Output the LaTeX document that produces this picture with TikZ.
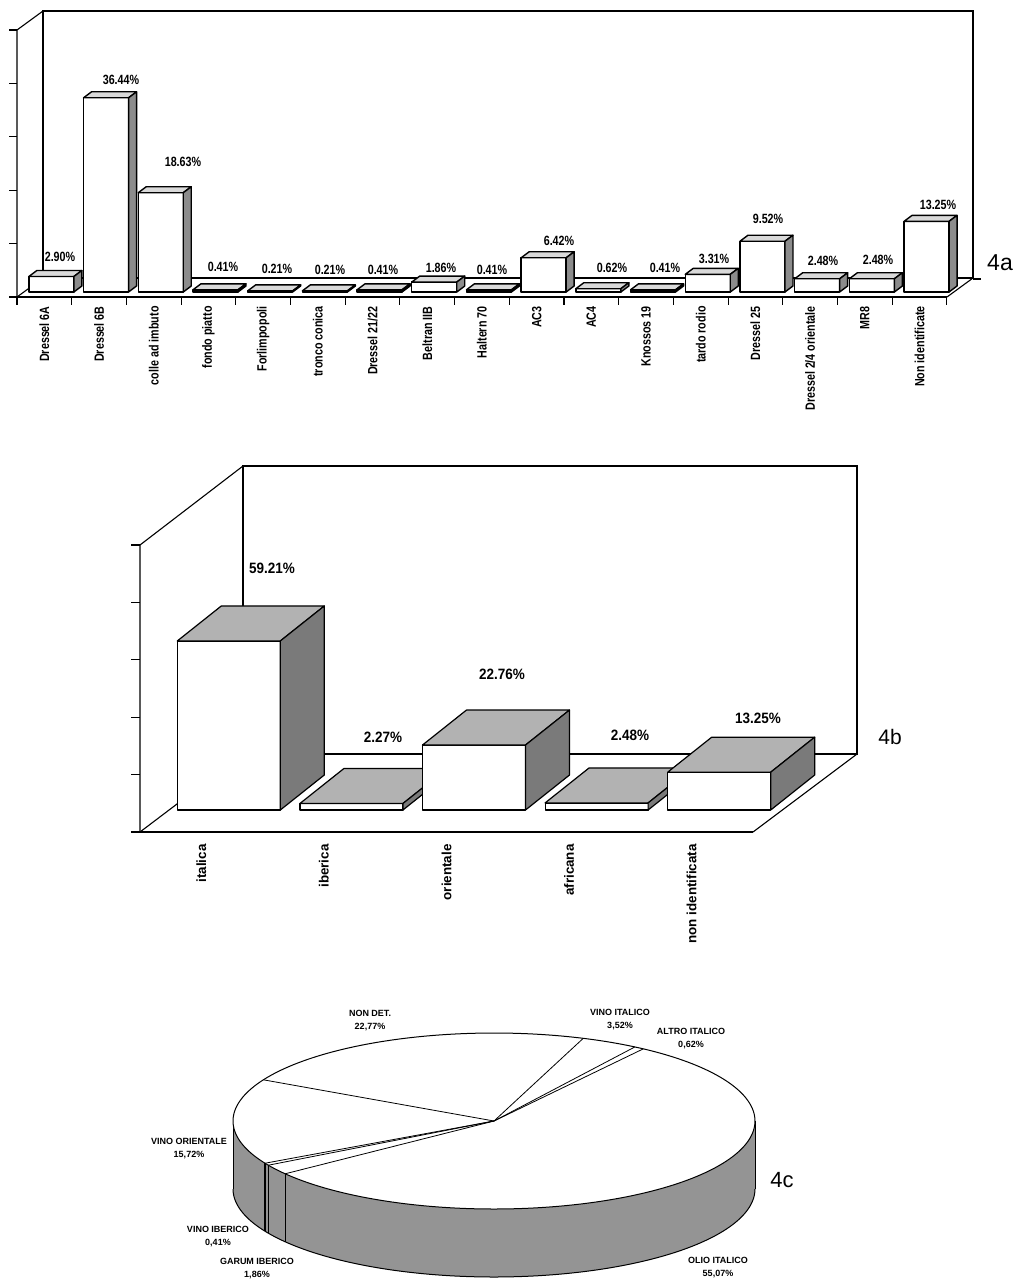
\documentclass[tikz,border=0pt]{standalone}
\usepackage{fontspec}
\setmainfont{Liberation Sans}
\newfontface\fbarA[FakeStretch=0.8]{Liberation Sans Bold}
\newfontface\fbarB[FakeStretch=0.9]{Liberation Sans Bold}
\newfontface\fbold{Liberation Sans Bold}
\begin{document}
\begin{tikzpicture}[x=0.5pt,y=-0.5pt,
  frame/.style={line width=0.55pt,black},
  barA/.style={line width=0.7pt,line join=round},
  barB/.style={line width=0.6pt,line join=round},
  valA/.style={font=\fbarA\fontsize{6.7}{7}\selectfont,inner sep=0pt},
  catA/.style={font=\fbarA\fontsize{6.7}{7}\selectfont,inner sep=0pt,rotate=90,anchor=east},
  valB/.style={font=\fbarB\fontsize{7.5}{8}\selectfont,inner sep=0pt},
  catB/.style={font=\fbold\fontsize{6.7}{7}\selectfont,inner sep=0pt,rotate=90,anchor=east},
  pielab/.style={font=\fbold\fontsize{4.5}{6.5}\selectfont,align=center,inner sep=0pt},
  figlab/.style={font=\fontsize{11.5}{12}\selectfont,inner sep=0pt}]
\fill[white] (0,0) rectangle (1018,1280);
\useasboundingbox (0,0) rectangle (1018,1280);

% ================= 4a =================
\draw[frame] (43,278) -- (43,11) -- (973,11) -- (973,278) -- (43,278);
\draw[frame] (17,297) -- (43,278);
\draw[frame] (947,297) -- (973,278);
\draw[frame] (973,279) -- (981,279);
\draw[frame] (9,297) -- (947,297);
\draw[frame] (17,297) -- (17,30) -- (43,11);
\foreach \k in {0,...,5} {\draw[frame] (9,{297-\k*53.4}) -- (17,{297-\k*53.4});}
\foreach \k in {0,...,17} {\draw[frame] ({17+\k*54.7},297) -- ({17+\k*54.7},305);}
\foreach \k/\v/\lab/\lx/\ly in {
  0/2.90/Dressel 6A/60/257, 1/36.44/Dressel 6B/121/80, 2/18.63/colle ad imbuto/183/162,
  3/0.41/fondo piatto/223/267, 4/0.21/Forlimpopoli/277/269, 5/0.21/tronco conica/330/270,
  6/0.41/{Dressel 21/22}/383/270, 7/1.86/Beltran IIB/441/268, 8/0.41/Haltern 70/492/270,
  9/6.42/AC3/559/241, 10/0.62/AC4/612/268, 11/0.41/Knossos 19/665/268,
  12/3.31/tardo rodio/714/259, 13/9.52/Dressel 25/768/219, 14/2.48/{Dressel 2/4 orientale}/823/261,
  15/2.48/MR8/878/260, 16/13.25/Non identificate/938/205} {
  \pgfmathsetmacro\cx{17+(\k+0.5)*54.7}
  \pgfmathsetmacro\xa{\cx-15.5}
  \pgfmathsetmacro\xb{\cx+29.5}
  \pgfmathsetmacro\yt{292-5.33*\v}
  \filldraw[barA,fill=white] (\xa,292) rectangle (\xb,\yt);
  \filldraw[barA,fill=black!15] (\xa,\yt) -- (\xb,\yt) -- (\xb+8,\yt-6) -- (\xa+8,\yt-6) -- cycle;
  \filldraw[barA,fill=black!45] (\xb,292) -- (\xb,\yt) -- (\xb+8,\yt-6) -- (\xb+8,286) -- cycle;
  \node[valA] (va\k) at (\lx,\ly) {\v\%};
  \node[catA] (ca\k) at (\cx,306) {\lab};
}
\node[figlab] (fig4a) at (1000,263) {4a};

% ================= 4b =================
\draw[frame] (243,754) -- (243,466) -- (857,466) -- (857,754) -- (243,754);
\draw[frame] (140,832) -- (243,754);
\draw[frame] (753,832) -- (857,754);
\draw[frame] (131,832) -- (753,832);
\draw[frame] (140,832) -- (140,545) -- (243,466);
\foreach \k in {0,...,5} {\draw[frame] (131,{832-\k*57.4}) -- (140,{832-\k*57.4});}
\foreach \k/\v/\lab/\lx/\ly in {
  0/59.21/italica/272/568, 1/2.27/iberica/383/737, 2/22.76/orientale/502/674,
  3/2.48/africana/630/735, 4/13.25/non identificata/758/718} {
  \pgfmathsetmacro\cx{140+(\k+0.5)*122.6}
  \pgfmathsetmacro\xa{\cx-24}
  \pgfmathsetmacro\xb{\cx+79}
  \pgfmathsetmacro\yt{810-2.855*\v}
  \filldraw[barB,fill=white] (\xa,810) rectangle (\xb,\yt);
  \filldraw[barB,fill=black!30] (\xa,\yt) -- (\xb,\yt) -- (\xb+44,\yt-35) -- (\xa+44,\yt-35) -- cycle;
  \filldraw[barB,fill=black!52] (\xb,810) -- (\xb,\yt) -- (\xb+44,\yt-35) -- (\xb+44,775) -- cycle;
  \node[valB] (vb\k) at (\lx,\ly) {\v\%};
  \node[catB] (cb\k) at (\cx,844) {\lab};
}
\node[figlab,font=\fontsize{10.5}{12}\selectfont] (fig4b) at (890,737) {4b};

% ================= 4c =================
\fill[black!42] plot[domain=180:360,samples=120] ({494+261*cos(\x)},{1189-88*sin(\x)})
  -- plot[domain=360:180,samples=120] ({494+261*cos(\x)},{1121-88*sin(\x)}) -- cycle;
\draw[line width=0.5pt] plot[domain=180:360,samples=120] ({494+261*cos(\x)},{1189-88*sin(\x)});
\draw[line width=0.5pt] (233,1121) -- (233,1189);
\draw[line width=0.5pt] (755,1121) -- (755,1189);
\foreach \a/\w in {216.85/0.5pt,210.15/0.7pt,208.67/0.7pt} {
  \draw[line width=\w] ({494+261*cos(\a)},{1121-88*sin(\a)}) -- ({494+261*cos(\a)},{1189-88*sin(\a)});
}
\filldraw[fill=white,line width=0.5pt] plot[domain=0:360,samples=240] ({494+261*cos(\x)},{1121-88*sin(\x)}) -- cycle;
\coordinate (pc) at (494,1121);
\foreach \a in {70,57.33,55.10,216.85,210.15,208.67,152.08} {
  \draw[line width=0.4pt] (pc) -- ({494+261*cos(\a)},{1121-88*sin(\a)});
}
\node[pielab] (pl1) at (370,1021) {NON DET.\\22,77\%};
\node[pielab] (pl2) at (620,1020) {VINO ITALICO\\3,52\%};
\node[pielab] (pl3) at (691,1039) {ALTRO ITALICO\\0,62\%};
\node[pielab] (pl4) at (189,1149) {VINO ORIENTALE\\15,72\%};
\node[pielab] (pl5) at (218,1237) {VINO IBERICO\\0,41\%};
\node[pielab] (pl6) at (257,1269) {GARUM IBERICO\\1,86\%};
\node[pielab] (pl7) at (718,1268) {OLIO ITALICO\\55,07\%};
\node[figlab,font=\fontsize{11}{12}\selectfont] (fig4c) at (782,1180) {4c};
\end{tikzpicture}
\end{document}
